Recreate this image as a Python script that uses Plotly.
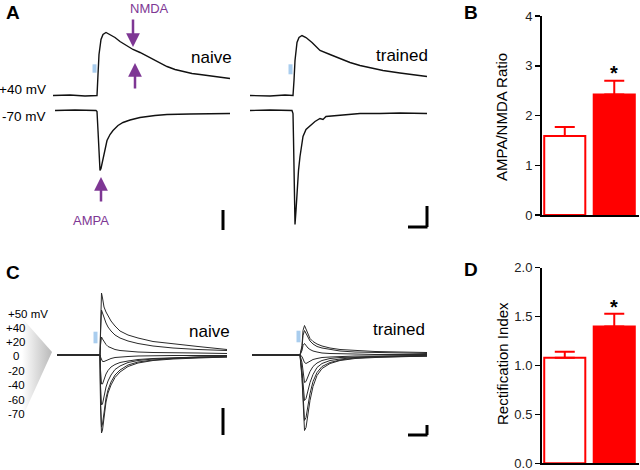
import plotly.graph_objects as go

W, H = 640, 470
def fx(p): return p / W
def fy(p): return 1 - p / H

FONT = "Liberation Sans, Arial, Helvetica, sans-serif"
PURPLE = "#7e3794"
RED = "#ff0000"
STIM = "#a9cdee"

# ---------------- Panel A : AMPA/NMDA traces (time ms, current pA rel. to baseline)
A_NAIVE_T_40 = [0, 34, 64, 86, 88, 90, 92, 96, 100, 106, 114, 124, 134, 148, 160, 174, 194, 210, 228, 244, 260, 278, 294, 324, 354]
A_NAIVE_I_40 = [0, 5, -5, 0, 0, 210, 410, 560, 610, 630, 610, 580, 540, 500, 460, 430, 380, 340, 290, 260, 240, 220, 210, 190, 170]
A_NAIVE_T_70 = [4, 44, 86, 88, 90, 92, 94, 96, 100, 104, 108, 114, 120, 130, 140, 154, 174, 204, 228, 274, 354]
A_NAIVE_I_70 = [0, 5, 0, -10, -200, -450, -600, -580, -480, -370, -300, -240, -200, -150, -120, -95, -70, -50, -40, -35, -30]
A_TRAINED_T_40 = [0, 40, 70, 86, 88, 90, 94, 98, 104, 112, 124, 140, 160, 180, 200, 220, 244, 266, 300, 330, 354]
A_TRAINED_I_40 = [0, -5, 5, 0, 150, 350, 530, 580, 600, 580, 530, 450, 410, 370, 330, 300, 270, 250, 225, 205, 190]
A_TRAINED_T_70 = [0, 40, 84, 86, 87, 88, 90, 92, 94, 97, 100, 106, 112, 120, 130, 140, 146, 152, 180, 220, 260, 300, 354]
A_TRAINED_I_70 = [0, 5, 0, -30, -280, -780, -1140, -1000, -800, -600, -460, -260, -190, -150, -110, -80, -90, -60, -45, -30, -30, -25, -30]
A_OFFSET_70 = -150  # display offset of the -70 mV sweep

# ---------------- Panel C : I-V family (time ms, current pA)
C_HOLDING = ["+50", "+40", "+20", "0", "-20", "-40", "-60", "-70"]
C_NAIVE_T = [8, 60, 92, 94, 95, 97, 99, 102, 106, 110, 116, 124, 134, 150, 170, 200, 240, 290, 348]
C_NAIVE_P50 = [0, 5, 0, 0, 250, 620, 570, 480, 430, 390, 340, 290, 240, 200, 170, 135, 110, 85, 55]
C_NAIVE_P40 = [0, 0, 0, 0, 200, 450, 420, 370, 320, 280, 240, 200, 170, 140, 115, 90, 70, 55, 45]
C_NAIVE_P20 = [0, 0, 0, 0, 100, 180, 160, 130, 105, 85, 70, 55, 45, 35, 30, 25, 20, 20, 15]
C_NAIVE_0 = [0, 0, 0, 0, -20, -50, -65, -65, -55, -45, -35, -25, -20, -15, -10, -5, -5, -5, -5]
C_NAIVE_M20 = [0, 0, 0, 0, -150, -290, -290, -240, -190, -155, -120, -95, -75, -60, -45, -35, -25, -20, -15]
C_NAIVE_M40 = [0, 0, 0, 0, -300, -500, -490, -400, -320, -260, -200, -145, -110, -75, -55, -40, -30, -20, -15]
C_NAIVE_M60 = [0, 0, 0, 0, -450, -720, -690, -550, -430, -350, -270, -200, -150, -100, -70, -50, -35, -25, -20]
C_NAIVE_M70 = [0, 0, 0, 0, -500, -780, -750, -600, -470, -380, -300, -225, -170, -115, -80, -55, -40, -30, -20]

C_TRAINED_T = [4, 60, 100, 104, 106, 109, 112, 116, 120, 126, 134, 144, 160, 180, 210, 250, 300, 354]
C_TRAINED_P50 = [0, 0, 0, 95, 245, 295, 255, 205, 165, 135, 110, 90, 70, 55, 45, 35, 30, 25]
C_TRAINED_P40 = [0, 0, 0, 75, 195, 245, 215, 175, 140, 110, 85, 70, 55, 40, 30, 25, 20, 15]
C_TRAINED_P20 = [0, 0, 0, 45, 95, 115, 95, 70, 55, 40, 30, 20, 15, 10, 10, 5, 5, 5]
C_TRAINED_0 = [0, 0, 0, -15, -45, -75, -85, -75, -60, -45, -35, -25, -20, -15, -10, -10, -5, -5]
C_TRAINED_M20 = [0, 0, 0, -75, -175, -275, -265, -215, -165, -115, -80, -55, -35, -25, -20, -15, -10, -5]
C_TRAINED_M40 = [0, 0, 0, -155, -305, -455, -435, -355, -275, -195, -125, -85, -55, -40, -25, -15, -10, -10]
C_TRAINED_M60 = [0, 0, 0, -205, -405, -655, -625, -505, -385, -265, -175, -115, -75, -50, -30, -20, -15, -10]
C_TRAINED_M70 = [0, 0, 0, -235, -455, -755, -725, -585, -455, -315, -205, -135, -85, -55, -35, -25, -15, -10]

# ---------------- Bar panels
GROUPS = ["naive", "trained"]
RATIO_MEAN = [1.59, 2.42]
RATIO_SEM = [0.18, 0.28]
RECT_MEAN = [1.08, 1.40]
RECT_SEM = [0.06, 0.13]

fig = go.Figure()

def line(xs, ys, ax, color="#111", width=1.4):
    fig.add_trace(go.Scatter(x=xs, y=ys, mode="lines", xaxis="x" + ax, yaxis="y" + ax,
                             line=dict(color=color, width=width), hoverinfo="skip",
                             showlegend=False))

# Panel A
line(A_NAIVE_T_40, A_NAIVE_I_40, "")
line(A_NAIVE_T_70, [v + A_OFFSET_70 for v in A_NAIVE_I_70], "")
line(A_TRAINED_T_40, A_TRAINED_I_40, "2")
line(A_TRAINED_T_70, [v + A_OFFSET_70 for v in A_TRAINED_I_70], "2")

# Panel C
for s in [C_NAIVE_P50, C_NAIVE_P40, C_NAIVE_P20, C_NAIVE_0, C_NAIVE_M20, C_NAIVE_M40, C_NAIVE_M60, C_NAIVE_M70]:
    line(C_NAIVE_T, s, "3", color="#2a2a2a", width=1)
for s in [C_TRAINED_P50, C_TRAINED_P40, C_TRAINED_P20, C_TRAINED_0, C_TRAINED_M20, C_TRAINED_M40, C_TRAINED_M60, C_TRAINED_M70]:
    line(C_TRAINED_T, s, "4", color="#2a2a2a", width=1)

# Bars
def bars(mean, sem, ax):
    fig.add_trace(go.Bar(x=GROUPS, y=mean, xaxis="x" + ax, yaxis="y" + ax, width=0.83,
                         marker=dict(color=["white", RED], line=dict(color=RED, width=2)),
                         error_y=dict(type="data", array=sem, arrayminus=[0, 0], symmetric=False,
                                      color=RED, thickness=2, width=10),
                         hoverinfo="skip", showlegend=False))
bars(RATIO_MEAN, RATIO_SEM, "5")
bars(RECT_MEAN, RECT_SEM, "6")

# Decorative holding-potential wedge (pixel overlay axis)
WEDGE_X = [22, 52, 22, 22]
WEDGE_Y = [318, 352, 418, 318]
fig.add_trace(go.Scatter(x=WEDGE_X, y=WEDGE_Y, mode="lines", xaxis="x7", yaxis="y7",
                         fill="toself", line=dict(width=0),
                         fillgradient=dict(type="horizontal",
                                           colorscale=[[0, "rgba(255,255,255,1)"], [1, "#b9b9b9"]]),
                         hoverinfo="skip", showlegend=False))

hidden = dict(visible=False, showgrid=False, zeroline=False, fixedrange=True, automargin=False)
A_YRANGE = [-1395, 705]
C_YRANGE = [-870, 700]
A_DOM_Y = [fy(235), fy(25)]
C_DOM_Y = [fy(442), fy(285)]

bar_y = dict(showline=True, linecolor="black", linewidth=2, ticks="outside", ticklen=5,
             tickwidth=1.5, tickcolor="black", showgrid=False, zeroline=False, automargin=False,
             ticklabeloverflow="allow", fixedrange=True,
             tickfont=dict(family=FONT, size=13, color="#222"))
bar_x = dict(showline=True, linecolor="black", linewidth=2, ticks="", showticklabels=False,
             showgrid=False, zeroline=False, range=[-0.46, 1.5], automargin=False, fixedrange=True)

fig.update_layout(
    template="none",
    width=W, height=H, margin=dict(l=0, r=0, t=0, b=0, pad=0, autoexpand=False),
    paper_bgcolor="white", plot_bgcolor="rgba(0,0,0,0)", showlegend=False,
    font=dict(family=FONT, color="black"), hovermode=False,
    xaxis=dict(domain=[fx(53), fx(232)], range=[0, 358], anchor="y", **hidden),
    yaxis=dict(domain=A_DOM_Y, range=A_YRANGE, anchor="x", **hidden),
    xaxis2=dict(domain=[fx(250), fx(432)], range=[0, 364], anchor="y2", **hidden),
    yaxis2=dict(domain=A_DOM_Y, range=A_YRANGE, anchor="x2", **hidden),
    xaxis3=dict(domain=[fx(53), fx(232)], range=[0, 358], anchor="y3", **hidden),
    yaxis3=dict(domain=C_DOM_Y, range=C_YRANGE, anchor="x3", **hidden),
    xaxis4=dict(domain=[fx(250), fx(432)], range=[0, 364], anchor="y4", **hidden),
    yaxis4=dict(domain=C_DOM_Y, range=C_YRANGE, anchor="x4", **hidden),
    xaxis5=dict(domain=[fx(542), fx(639)], anchor="y5", **bar_x),
    yaxis5=dict(domain=[fy(215), fy(16)], range=[0, 4], dtick=1, anchor="x5", **bar_y),
    xaxis6=dict(domain=[fx(542), fx(639)], anchor="y6", **bar_x),
    yaxis6=dict(domain=[fy(463.3), fy(267.7)], range=[0, 2], dtick=0.5, tickformat=".1f",
                anchor="x6", **bar_y),
    xaxis7=dict(domain=[0, 1], range=[0, W], anchor="y7", **hidden),
    yaxis7=dict(domain=[0, 1], range=[H, 0], anchor="x7", **hidden),
    bargap=0,
)

shapes = []
# stimulus markers
for ax, (x0, x1, y0, y1) in {"": (79, 87, 228, 312), "2": (77, 85, 212, 312),
                             "3": (81, 89, 117, 233), "4": (93, 101, 127, 243)}.items():
    shapes.append(dict(type="rect", xref="x" + ax, yref="y" + ax, x0=x0, x1=x1, y0=y0, y1=y1,
                       fillcolor=STIM, line=dict(width=0), layer="above"))
# scale bars
SB = dict(color="black", width=3)
shapes += [
    dict(type="line", xref="x", yref="y", x0=340, x1=340, y0=-1345, y1=-1145, line=SB),
    dict(type="line", xref="x2", yref="y2", x0=354, x1=354, y0=-1315, y1=-1105, line=SB),
    dict(type="line", xref="x2", yref="y2", x0=316, x1=355, y0=-1315, y1=-1315, line=SB),
    dict(type="line", xref="x3", yref="y3", x0=340, x1=340, y0=-800, y1=-530, line=SB),
    dict(type="line", xref="x4", yref="y4", x0=354, x1=354, y0=-800, y1=-700, line=SB),
    dict(type="line", xref="x4", yref="y4", x0=316, x1=355, y0=-800, y1=-800, line=SB),
]
fig.update_layout(shapes=shapes)

ann = []
def txt(t, x, y, size, color="black", bold=False, xanchor="center", angle=0):
    ann.append(dict(text=("<b>%s</b>" % t) if bold else t, x=fx(x), y=fy(y), xref="paper",
                    yref="paper", showarrow=False, xanchor=xanchor, yanchor="middle",
                    textangle=angle, font=dict(family=FONT, size=size, color=color)))

for t, x, y in [("A", 13, 12), ("B", 471, 12.5), ("C", 13, 272), ("D", 471, 269)]:
    txt(t, x, y, 19, bold=True)
txt("NMDA", 149, 8, 13, PURPLE)
txt("AMPA", 90.5, 220, 13, PURPLE)
txt("naive", 211, 57, 17)
txt("trained", 401.5, 55, 17)
txt("naive", 209, 331, 17)
txt("trained", 399, 329, 17)
txt("+40 mV", 48, 89, 13.5, xanchor="right")
txt("-70 mV", 48, 117, 13.5, xanchor="right")
txt("+50 mV", 6, 314, 11.5, xanchor="left")
for lab, y in zip(C_HOLDING[1:], [327.7, 341.7, 356, 370.7, 385, 400, 414.3]):
    txt(lab, 16, y, 11.5)
txt("AMPA/NMDA Ratio", 502, 117, 15, angle=-90)
txt("Rectification Index", 502, 364, 15, angle=-90)
txt("*", 614, 73, 20, bold=True)
txt("*", 614, 307, 20, bold=True)

# arrows
for x, y, ay in [(160, 485, -29), (164, 325, 27), (96, -815, 26)]:
    ann.append(dict(text="", x=x, y=y, xref="x", yref="y", ax=0, ay=ay, showarrow=True,
                    arrowhead=2, arrowsize=1.1, arrowwidth=2.5, arrowcolor=PURPLE))
fig.update_layout(annotations=ann)

fig.write_html("out.html", config={"displayModeBar": False, "staticPlot": True},
               post_script="document.body.style.margin='0px';document.body.style.overflow='hidden';")
